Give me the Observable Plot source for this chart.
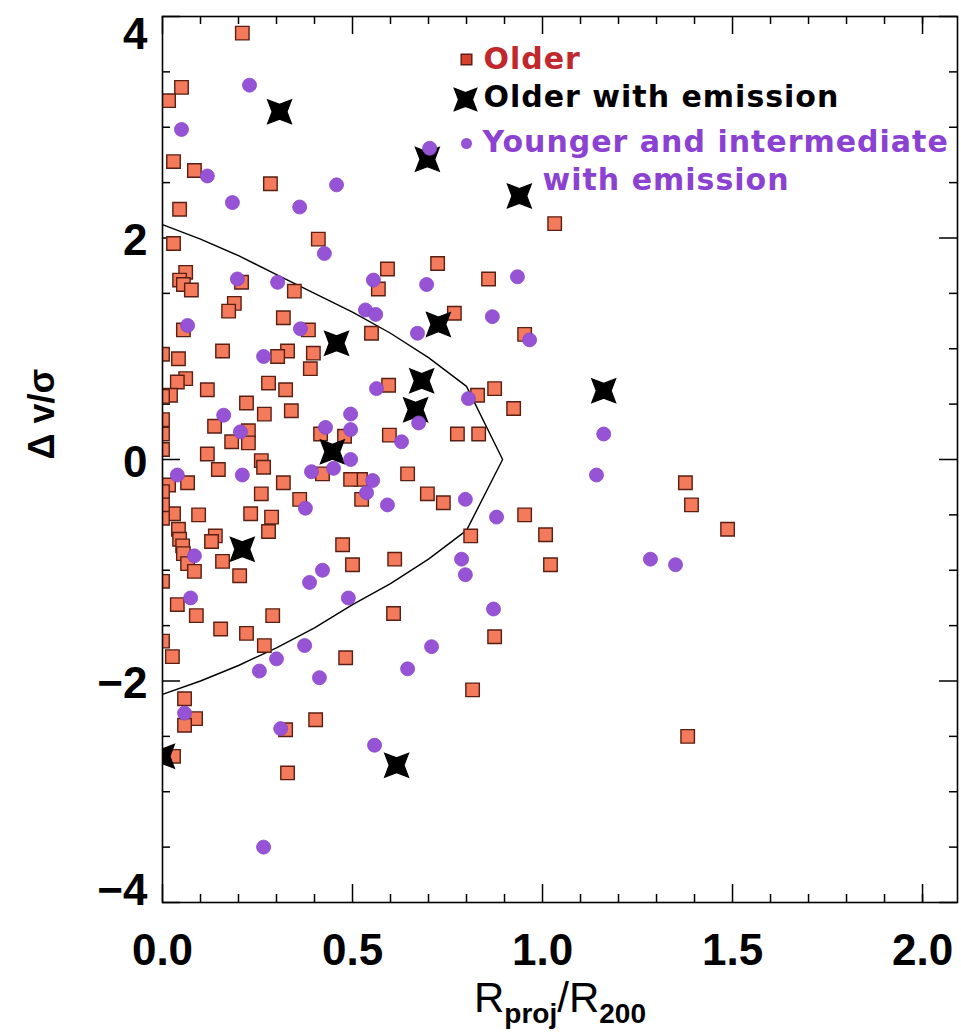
<!DOCTYPE html>
<html><head><meta charset="utf-8">
<script src="https://cdn.jsdelivr.net/npm/d3@7"></script>
<script src="https://cdn.jsdelivr.net/npm/@observablehq/plot@0.6"></script>
<style>
body{margin:0;background:#fff}
#chart{width:961px;height:1034px}
g[font-family="DejaVu Sans"] text{letter-spacing:1px}
</style>
</head><body><div id="chart"></div>
<script>
// ---- data (Rproj/R200, Δv/σ) ----
const olderPts = [[0.21,3.85],[0.05,3.36],[0.016,3.24],[0.029,2.69],[0.084,2.61],[0.284,2.49],[0.045,2.26],[0.029,1.95],[0.41,1.99],[0.061,1.69],[0.045,1.62],[0.055,1.58],[0.076,1.53],[0.208,1.60],[0.347,1.52],[0.189,1.41],[0.174,1.34],[0.318,1.28],[1.032,2.13],[0.592,1.72],[0.568,1.54],[0.724,1.77],[0.858,1.63],[0.768,1.32],[0.55,1.14],[0.953,1.13],[0.595,0.67],[0.829,0.58],[0.874,0.64],[0.924,0.46],[0.597,0.22],[0.776,0.23],[0.832,0.23],[0.645,-0.13],[0.521,-0.18],[0.524,-0.36],[0.697,-0.31],[0.739,-0.39],[0.953,-0.50],[1.008,-0.68],[0.811,-0.69],[1.021,-0.95],[0.611,-0.90],[0.608,-1.39],[0.055,1.17],[0.042,0.91],[0.158,0.98],[0.384,1.17],[0.329,0.98],[0.303,0.93],[0.397,0.96],[0.389,0.82],[0.061,0.73],[0.039,0.70],[0.021,0.58],[0.118,0.63],[0.279,0.69],[0.324,0.63],[0.221,0.51],[0.268,0.41],[0.339,0.44],[0.137,0.30],[0.182,0.16],[0.226,0.26],[0.226,0.15],[0.118,0.05],[0.147,-0.09],[0.26,-0.01],[0.266,-0.07],[0.016,-0.23],[0.066,-0.21],[0.318,-0.21],[0.26,-0.31],[0.361,-0.36],[0.416,0.23],[0.479,0.21],[0.421,-0.13],[0.495,-0.18],[0.029,-0.49],[0.095,-0.50],[0.232,-0.49],[0.287,-0.52],[0.279,-0.65],[0.042,-0.63],[0.045,-0.72],[0.053,-0.78],[0.055,-0.85],[0.066,-0.94],[0.084,-1.01],[0.139,-0.69],[0.129,-0.74],[0.158,-0.92],[0.203,-1.05],[0.474,-0.77],[0.50,-0.95],[0.039,-1.31],[0.089,-1.41],[0.29,-1.41],[0.153,-1.53],[0.221,-1.57],[0.268,-1.68],[0.026,-1.78],[0.0,-1.64],[0.482,-1.79],[0.058,-2.16],[0.087,-2.34],[0.058,-2.40],[0.403,-2.35],[0.324,-2.44],[0.029,-2.68],[0.329,-2.83],[0.874,-1.60],[0.816,-2.08],[1.376,-0.21],[1.392,-0.41],[1.487,-0.63],[1.382,-2.50],[0,0.95],[0,0.57],[0,0.36],[0,0.23],[0,0.09],[0,-0.29],[0,-0.41],[0,-0.53],[0,-1.10]];

const youngerPts = [[0.229,3.38],[0.05,2.98],[0.118,2.56],[0.184,2.32],[0.458,2.48],[0.361,2.28],[0.426,1.86],[0.197,1.63],[0.303,1.60],[0.703,2.81],[0.555,1.62],[0.695,1.58],[0.934,1.65],[0.868,1.29],[0.534,1.35],[0.561,1.31],[0.671,1.14],[0.966,1.08],[0.563,0.64],[0.674,0.33],[0.629,0.16],[0.553,-0.19],[0.537,-0.30],[0.797,-0.36],[0.592,-0.41],[0.879,-0.52],[0.787,-0.90],[0.797,-1.04],[0.871,-1.35],[0.066,1.21],[0.363,1.18],[0.266,0.93],[0.161,0.40],[0.205,0.25],[0.21,-0.14],[0.039,-0.14],[0.376,-0.44],[0.429,0.29],[0.495,0.41],[0.495,0.27],[0.495,0.0],[0.392,-0.11],[0.45,-0.08],[0.084,-0.87],[0.421,-1.00],[0.387,-1.11],[0.489,-1.25],[0.074,-1.25],[0.374,-1.68],[0.30,-1.80],[0.255,-1.91],[0.413,-1.97],[0.058,-2.29],[0.311,-2.43],[0.266,-3.50],[0.708,-1.69],[0.645,-1.89],[0.558,-2.58],[1.161,0.23],[1.142,-0.14],[1.284,-0.90],[1.35,-0.95],[0.805,0.55]];

const emissionPts = [[0.308,3.14],[0.697,2.71],[0.939,2.38],[0.726,1.22],[0.458,1.05],[0.682,0.71],[0.666,0.45],[0.447,0.07],[0.21,-0.81],[1.161,0.62],[0.616,-2.76],[0.0,-2.68]];

const causticX = [0,0.1,0.2,0.3,0.4,0.5,0.6,0.7,0.8,0.895,0.8,0.7,0.6,0.5,0.4,0.3,0.2,0.1,0];
const causticY = [2.12,1.99,1.84,1.67,1.50,1.33,1.14,0.92,0.66,0,-0.64,-0.90,-1.12,-1.31,-1.52,-1.70,-1.86,-2.0,-2.12];

const xMajor = [0,0.5,1,1.5,2];
const xMinor = [0.1,0.2,0.3,0.4,0.6,0.7,0.8,0.9,1.1,1.2,1.3,1.4,1.6,1.7,1.8,1.9,2.0];
const yMajor = [-4,-2,0,2,4];
const yMinor = [-3.5,-3,-2.5,-1.5,-1,-0.5,0.5,1,1.5,2.5,3,3.5];
const legendLabels = ["Older","Older with emission","Younger and intermediate","with emission"];

// ---- layout ----
const W = 961, H = 1034, mL = 162, mR = 4, mT = 16, mB = 132;
const fw = W - mL - mR, fh = H - mT - mB;

const starX = {draw(ctx, size){
  const a = Math.sqrt(size/Math.PI)*0.92, b = a*0.62;
  ctx.moveTo(-a,-a); ctx.lineTo(0,-b); ctx.lineTo(a,-a); ctx.lineTo(b,0);
  ctx.lineTo(a,a); ctx.lineTo(0,b); ctx.lineTo(-a,a); ctx.lineTo(-b,0); ctx.closePath();
}};

const minus = d => d < 0 ? "\u2212" + Math.abs(d) : String(d);
const tickFont = {fontFamily:"Liberation Sans, Arial, sans-serif", fontWeight:"bold", fontSize:44, fill:"black"};
const legFont = {fontFamily:"DejaVu Sans", fontWeight:"bold", fontSize:30, frameAnchor:"top-left", textAnchor:"start", lineAnchor:"middle"};

const plot = Plot.plot({
  width: W, height: H,
  marginLeft: mL, marginRight: mR, marginTop: mT, marginBottom: mB,
  x: {domain:[0, 2.092], axis:null},
  y: {domain:[-4, 4], axis:null},
  style: {background:"white"},
  marks: [
    // ticks (inside the frame, on all four sides)
    Plot.tickX(xMinor, {x:d=>d, insetTop: fh-8, stroke:"black", strokeWidth:1.5}),
    Plot.tickX(xMajor, {x:d=>d, insetTop: fh-18, stroke:"black", strokeWidth:1.5}),
    Plot.tickX(xMinor, {x:d=>d, insetBottom: fh-8, stroke:"black", strokeWidth:1.5}),
    Plot.tickX(xMajor, {x:d=>d, insetBottom: fh-18, stroke:"black", strokeWidth:1.5}),
    Plot.tickY(yMinor, {y:d=>d, insetRight: fw-8, stroke:"black", strokeWidth:1.5}),
    Plot.tickY(yMajor, {y:d=>d, insetRight: fw-18, stroke:"black", strokeWidth:1.5}),
    Plot.tickY(yMinor, {y:d=>d, insetLeft: fw-8, stroke:"black", strokeWidth:1.5}),
    Plot.tickY(yMajor, {y:d=>d, insetLeft: fw-18, stroke:"black", strokeWidth:1.5}),
    // tick labels
    Plot.text(xMajor, {x:d=>d, text:d=>d3.format(".1f")(d), frameAnchor:"bottom", lineAnchor:"top", dy:31, ...tickFont}),
    Plot.text([-2,0,2], {y:d=>d, text:minus, frameAnchor:"left", textAnchor:"end", dx:-15, dy:3, ...tickFont}),
    Plot.text([4], {y:d=>d, text:minus, frameAnchor:"left", textAnchor:"end", dx:-15, dy:18, ...tickFont}),
    Plot.text([-4], {y:d=>d, text:minus, frameAnchor:"left", textAnchor:"end", dx:-15, dy:-12, ...tickFont}),
    // y title
    Plot.text(["\u0394 v/\u03c3"], {frameAnchor:"left", dx:-120, rotate:-90, fontFamily:"Liberation Sans, Arial, sans-serif", fontWeight:"bold", fontSize:36, fill:"black"}),
    // caustic curve
    Plot.line(causticX, {x:d=>d, y:(d,i)=>causticY[i], stroke:"black", strokeWidth:1.4, clip:true}),
    // data
    Plot.dot(olderPts, {x:d=>d[0], y:d=>d[1], symbol:"square", r:7.6, fill:"#f37a5a", stroke:"#5a1e12", strokeWidth:1.4, clip:true}),
    Plot.dot(emissionPts, {x:d=>d[0], y:d=>d[1], symbol:starX, r:13, fill:"black", stroke:"black", strokeWidth:1.2, clip:true}),
    Plot.dot(youngerPts, {x:d=>d[0], y:d=>d[1], r:7, fill:"#9753d6", stroke:"#8a48c8", strokeWidth:0.8, clip:true}),
    // legend
    Plot.dot([0], {frameAnchor:"top-left", dx:304, dy:43, symbol:"square", r:6, fill:"#d8402e", stroke:"#5a1e12", strokeWidth:1.4}),
    Plot.dot([0], {frameAnchor:"top-left", dx:303, dy:83, symbol:starX, r:12, fill:"black", stroke:"black"}),
    Plot.dot([0], {frameAnchor:"top-left", dx:304, dy:127, r:5.5, fill:"#9753d6"}),
    Plot.text([legendLabels[0]], {dx:321, dy:43, fill:"#c0282d", ...legFont}),
    Plot.text([legendLabels[1]], {dx:321, dy:81, fill:"black", ...legFont}),
    Plot.text([legendLabels[2]], {dx:320, dy:126, fill:"#8b42d2", ...legFont}),
    Plot.text([legendLabels[3]], {dx:380, dy:164, fill:"#8b42d2", ...legFont}),
    Plot.frame({stroke:"black", strokeWidth:1.6})
  ]
});
document.getElementById("chart").appendChild(plot);

// x-axis title with subscripts
const t = d3.select(plot).append("text")
  .attr("x", 560).attr("y", 1012).attr("text-anchor","middle")
  .attr("font-family","Liberation Sans, Arial, sans-serif").attr("font-size",42).attr("fill","black");
t.append("tspan").text("R");
t.append("tspan").attr("dy",11).attr("font-size",28).attr("font-weight","bold").text("proj");
t.append("tspan").attr("dy",-11).text("/R");
t.append("tspan").attr("dy",11).attr("font-size",28).attr("font-weight","bold").text("200");
</script>
</body></html>
